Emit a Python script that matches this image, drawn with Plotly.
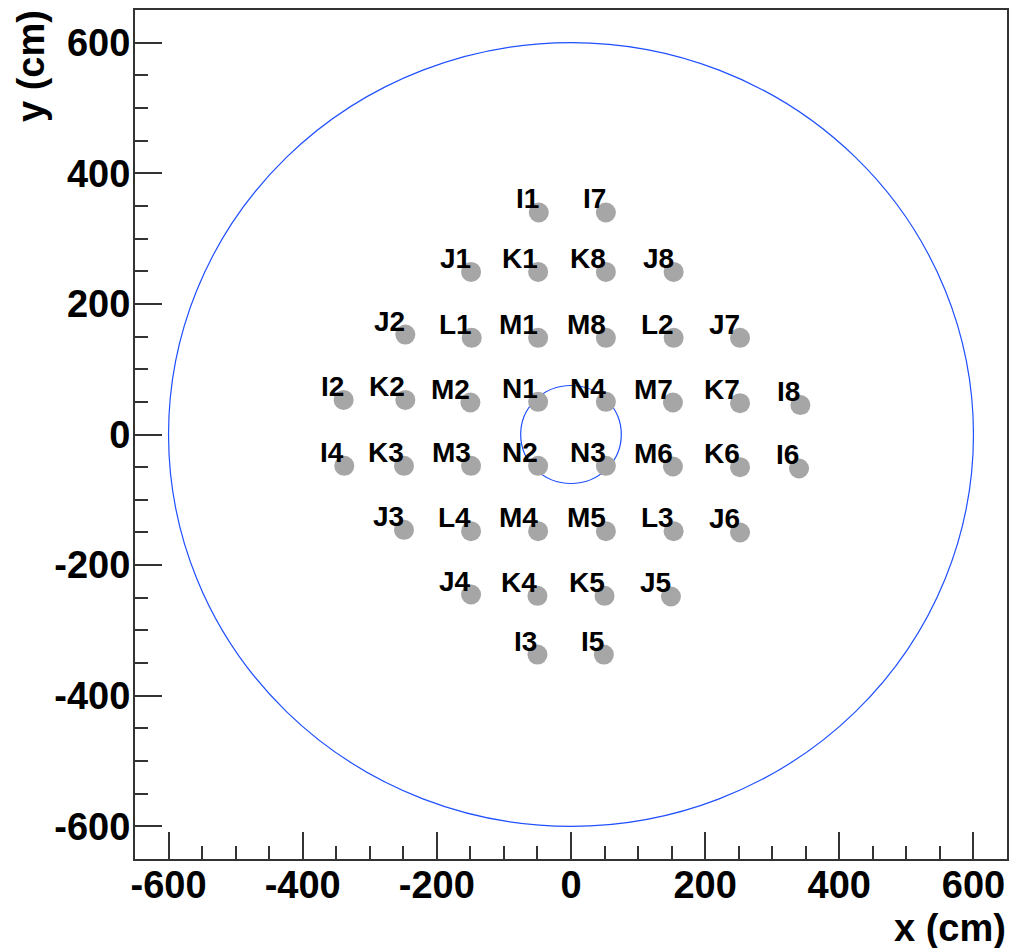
import plotly.graph_objects as go

# ---- data ----
names = ["I1", "I7",
         "J1", "K1", "K8", "J8",
         "J2", "L1", "M1", "M8", "L2", "J7",
         "I2", "K2", "M2", "N1", "N4", "M7", "K7", "I8",
         "I4", "K3", "M3", "N2", "N3", "M6", "K6", "I6",
         "J3", "L4", "M4", "M5", "L3", "J6",
         "J4", "K4", "K5", "J5",
         "I3", "I5"]
x_cm = [-48, 52,
        -149, -49, 52, 153,
        -247, -148, -49, 52, 153, 252,
        -339, -247, -150, -49, 52, 152, 252, 342,
        -338, -249, -149, -49, 52, 152, 252, 340,
        -249, -149, -49, 52, 153, 252,
        -149, -50, 50, 149,
        -50, 49]
y_cm = [340, 340,
        249, 249, 249, 249,
        153, 148, 148, 148, 148, 148,
        53, 53, 49, 50, 50, 49, 48, 45,
        -48, -48, -48, -48, -48, -49, -50, -52,
        -146, -148, -148, -148, -148, -150,
        -245, -247, -247, -248,
        -337, -337]
R_outer = 600
R_inner = 75
x_range = [-650, 650]
y_range = [-650, 650]
tick_vals = [-600, -400, -200, 0, 200, 400, 600]
tick_text = ["-600", "-400", "-200", "0", "200", "400", "600"]
x_title = "x (cm)"
y_title = "y (cm)"

FONT = "Liberation Sans, Arial, sans-serif"
BLUE = "#1f4fff"
AXCOL = "#333333"

fig = go.Figure()

fig.add_trace(go.Scatter(
    x=x_cm, y=y_cm, mode="markers",
    marker=dict(size=20, color="#a6a6a6", line=dict(width=0)),
    hoverinfo="skip", showlegend=False))

shapes = []
for r in (R_outer, R_inner):
    shapes.append(dict(type="circle", xref="x", yref="y",
                       x0=-r, y0=-r, x1=r, y1=r,
                       line=dict(color=BLUE, width=1.2), layer="below"))

annotations = []
for n, xv, yv in zip(names, x_cm, y_cm):
    annotations.append(dict(x=xv, y=yv, xref="x", yref="y", text=n,
                            showarrow=False, xanchor="right", yanchor="bottom",
                            xshift=2, yshift=-4,
                            font=dict(family=FONT, size=28, color="black", weight="bold")))

annotations.append(dict(x=1, y=0, xref="paper", yref="paper", text=x_title,
                        showarrow=False, xanchor="right", yanchor="middle",
                        yshift=-69, xshift=1,
                        font=dict(family=FONT, size=38, color="black", weight="bold")))
annotations.append(dict(x=0, y=1, xref="paper", yref="paper", text=y_title,
                        showarrow=False, xanchor="center", yanchor="top",
                        textangle=-90, xshift=-104, yshift=2,
                        font=dict(family=FONT, size=38, color="black", weight="bold")))

axis_common = dict(
    showgrid=False, zeroline=False,
    showline=True, linecolor=AXCOL, linewidth=2, mirror=True,
    ticks="inside", ticklen=27, tickwidth=1.5, tickcolor=AXCOL,
    tickmode="array", tickvals=tick_vals, ticktext=tick_text,
    minor=dict(ticks="inside", ticklen=13, tickwidth=1.5, tickcolor=AXCOL, dtick=50, tick0=0),
    tickfont=dict(family=FONT, size=38, color="black", weight="bold"),
)

fig.update_layout(
    width=1013, height=948,
    margin=dict(l=135, r=4, t=10, b=89, pad=0),
    paper_bgcolor="white", plot_bgcolor="white",
    shapes=shapes, annotations=annotations,
    xaxis=dict(range=x_range, ticklabelstandoff=-9, **axis_common),
    yaxis=dict(range=y_range, ticklabelstandoff=-5, **axis_common),
    showlegend=False,
)

fig.write_html("out.html", config={"displayModeBar": False},
               post_script="document.body.style.margin='0';")
